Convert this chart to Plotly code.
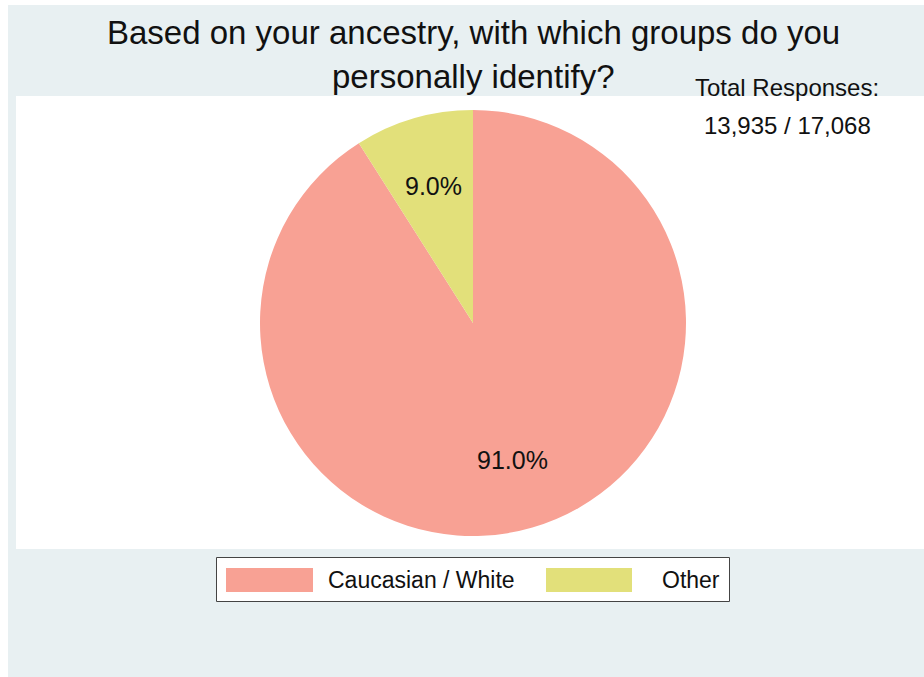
import math
import plotly.graph_objects as go

# Survey results
categories = ["Caucasian / White", "Other"]
shares = [91.0, 9.0]
colors = ["#F8A194", "#E2E07A"]
title_lines = ["Based on your ancestry, with which groups do you", "personally identify?"]
responses_text = ["Total Responses:", "13,935 / 17,068"]

W, H = 924, 677
BG = "#E8F0F2"
FONT = "Liberation Sans, Arial"

# plot-area geometry in pixels
L, T, R_, B = 16, 96, 0, 128
PW, PH = W - L - R_, H - T - B

# pie centre and radius in pixels
CX, CY, RAD = 473, 323, 213


def px(x):
    return (x - L) / PW


def py(y):
    return (H - B - y) / PH


fig = go.Figure()
fig.add_trace(go.Pie(
    labels=categories,
    values=shares,
    sort=False,
    direction="clockwise",
    rotation=0,
    marker=dict(colors=colors, line=dict(width=0)),
    textinfo="none",
    domain=dict(x=[px(CX) - 0.3, px(CX) + 0.3], y=[py(CY) - RAD / PH, py(CY) + RAD / PH]),
    showlegend=False,
    hoverinfo="label+percent",
))

shapes = [
    # outer page strip and panel background
    dict(type="rect", xref="paper", yref="paper", x0=px(0), x1=px(W), y0=py(H), y1=py(0),
         fillcolor="white", line=dict(width=0), layer="below"),
    dict(type="rect", xref="paper", yref="paper", x0=px(8), x1=px(W), y0=py(H), y1=py(5),
         fillcolor=BG, line=dict(width=0), layer="below"),
    # white plotting region
    dict(type="rect", xref="paper", yref="paper", x0=0, x1=1, y0=0, y1=1,
         fillcolor="white", line=dict(width=0), layer="below"),
    # legend frame
    dict(type="rect", xref="paper", yref="paper", x0=px(216.5), x1=px(729.5), y0=py(601.5), y1=py(557.5),
         fillcolor="white", line=dict(width=1, color="#444444"), layer="above"),
]

annotations = []

# percentage labels along each slice's bisector (clockwise from 12 o'clock)
total = sum(shares)
start = 0.0
for v in shares:
    frac = v / total
    mid = (start + frac / 2) * 2 * math.pi
    start += frac
    lx = CX + 0.67 * RAD * math.sin(mid)
    ly = CY - 0.67 * RAD * math.cos(mid)
    annotations.append(dict(text=f"{v / total * 100:.1f}%", xref="paper", yref="paper",
                            x=px(lx), y=py(ly), xanchor="center", yanchor="middle", showarrow=False,
                            font=dict(size=25, color="#111111", family=FONT)))

# legend entries
legend_items = [(226, 313, 326), (546, 632, 660)]
for (sx0, sx1, tx), label, col in zip(legend_items, categories, colors):
    shapes.append(dict(type="rect", xref="paper", yref="paper", x0=px(sx0), x1=px(sx1),
                       y0=py(592), y1=py(568), fillcolor=col, line=dict(width=0), layer="above"))
    annotations.append(dict(text=label, xref="paper", yref="paper", x=px(tx), y=py(580),
                            xanchor="left", yanchor="middle", showarrow=False,
                            font=dict(size=23, color="#111111", family=FONT)))

# response count note
for text, yc in zip(responses_text, [88, 125]):
    annotations.append(dict(text=text, xref="paper", yref="paper", x=px(787), y=py(yc),
                            xanchor="center", yanchor="middle", showarrow=False,
                            font=dict(size=24, color="#111111", family=FONT)))

# title, one line per annotation
for text, yc in zip(title_lines, [33, 76]):
    annotations.append(dict(text=text, xref="paper", yref="paper", x=px(CX), y=py(yc),
                            xanchor="center", yanchor="middle", showarrow=False,
                            font=dict(size=33, color="#111111", family=FONT)))

fig.update_layout(
    width=W, height=H,
    margin=dict(l=L, r=R_, t=T, b=B, pad=0),
    paper_bgcolor=BG,
    plot_bgcolor="white",
    shapes=shapes,
    annotations=annotations,
)

fig.write_html("out.html")
